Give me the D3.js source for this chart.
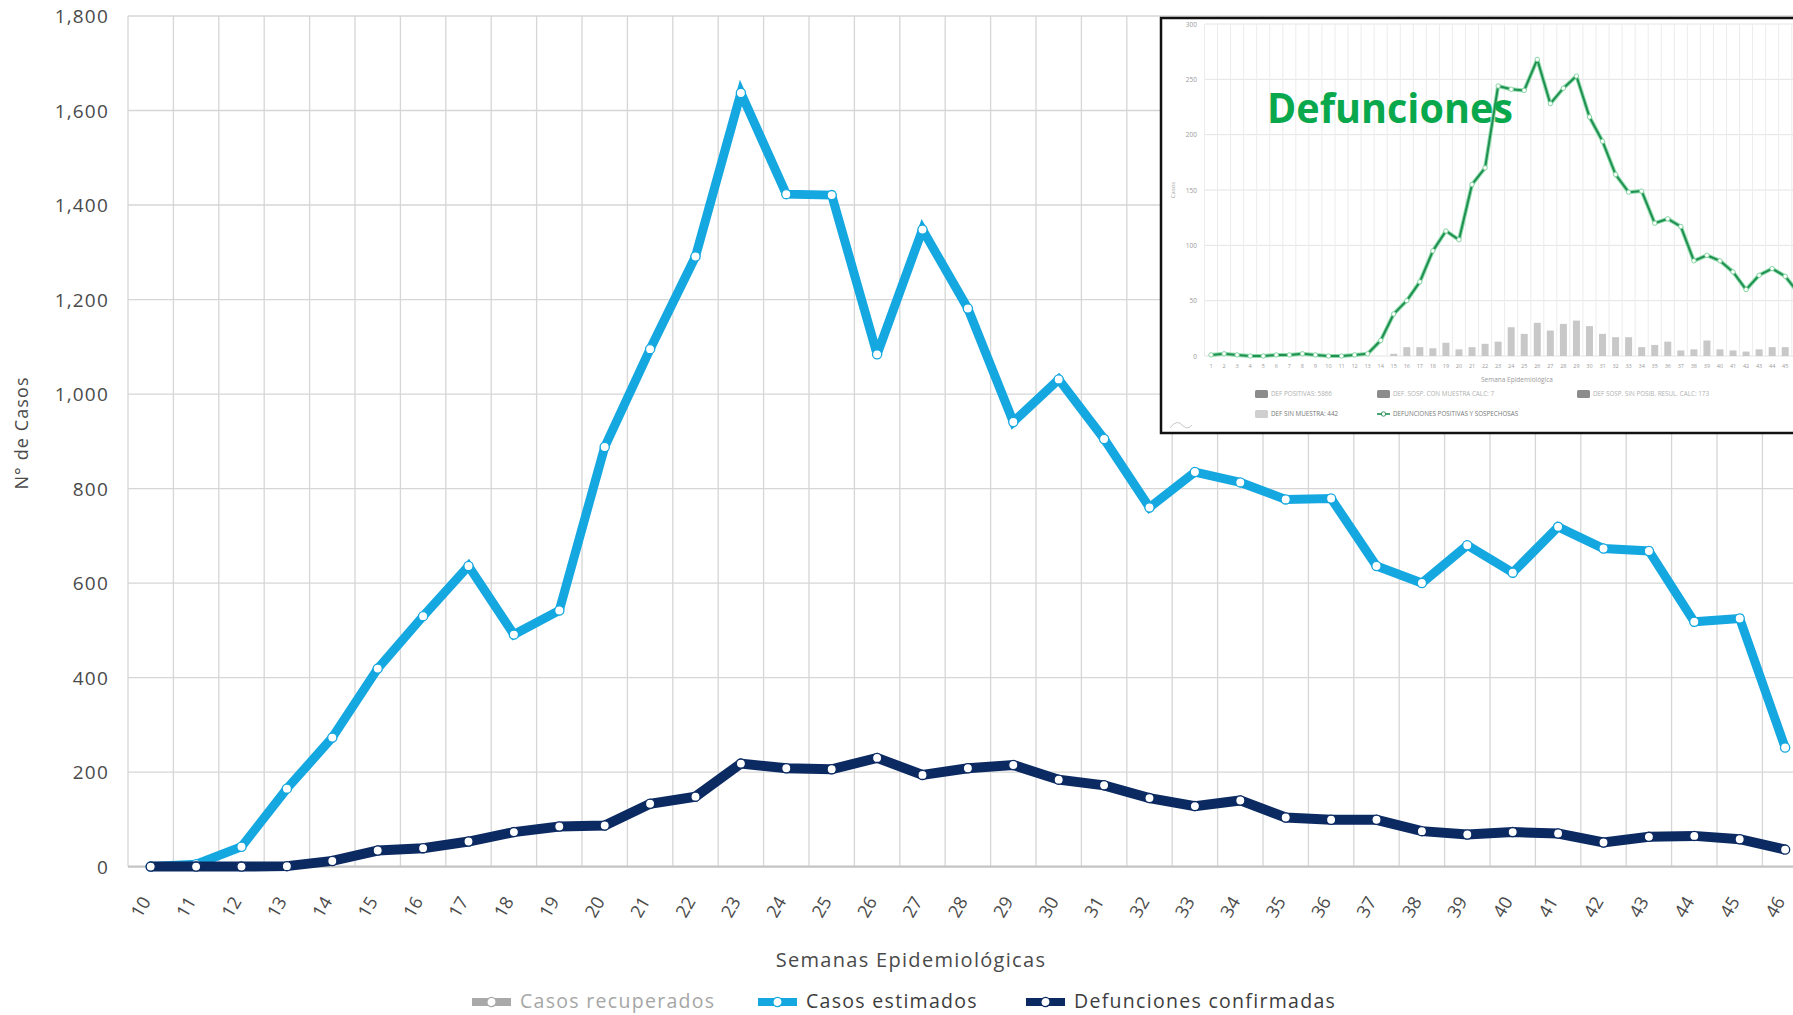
<!DOCTYPE html>
<html>
<head>
<meta charset="utf-8">
<script src="https://cdn.jsdelivr.net/npm/d3@7"></script>
<style>
  html, body { margin: 0; padding: 0; background: #fff; overflow: hidden; }
  svg { display: block; font-family: "Open Sans", "DejaVu Sans", sans-serif; }
</style>
</head>
<body>
<svg id="chart" width="1793" height="1015"></svg>
<script>
// ---------- Main chart data ----------
const weeks = [10,11,12,13,14,15,16,17,18,19,20,21,22,23,24,25,26,27,28,29,30,31,32,33,34,35,36,37,38,39,40,41,42,43,44,45,46];
const casosEstimados = [0,5,42,165,273,419,530,636,491,542,888,1095,1291,1637,1423,1421,1084,1348,1181,941,1031,905,760,835,813,777,779,636,600,680,622,719,673,668,518,525,252];
const defuncionesConfirmadas = [0,0,0,1,12,34,39,53,73,85,87,133,148,218,208,206,230,194,208,215,184,172,145,128,140,104,99,99,75,68,73,70,51,63,65,58,36];
const yTicks = [0,200,400,600,800,1000,1200,1400,1600,1800];
const legendLabels = ["Casos recuperados", "Casos estimados", "Defunciones confirmadas"];

// ---------- Inset (Defunciones) data ----------
const insetWeeks = [1,2,3,4,5,6,7,8,9,10,11,12,13,14,15,16,17,18,19,20,21,22,23,24,25,26,27,28,29,30,31,32,33,34,35,36,37,38,39,40,41,42,43,44,45,46];
const insetLine = [1,2,1,0,0,1,1,2,1,0,0,1,2,14,38,50,67,95,113,105,155,170,244,241,240,268,228,242,253,216,194,164,148,149,120,124,117,86,91,86,76,60,73,79,72,57];
const insetBars = [0,0,0,0,0,0,0,0,0,0,0,0,0,0,2,8,8,7,12,6,8,11,13,26,20,30,23,29,32,27,20,17,17,8,10,13,5,6,14,6,5,4,6,8,8,8];
const insetYTicks = [0,50,100,150,200,250,300];
const insetLegend = ["DEF POSITIVAS: 5866", "DEF. SOSP. CON MUESTRA CALC: 7", "DEF SOSP. SIN POSIB. RESUL. CALC: 173", "DEF SIN MUESTRA: 442", "DEFUNCIONES POSITIVAS Y SOSPECHOSAS"];

const svg = d3.select("#chart");
svg.append("rect").attr("width", 1793).attr("height", 1015).attr("fill", "#fff");

const COL_LIGHT = "#14a7e0";
const COL_DARK = "#0c2a62";
const COL_GREY = "#a9a9a9";

const x = d3.scaleBand().domain(weeks).range([128, 128 + weeks.length * 45.4]).padding(0);
const y = d3.scaleLinear().domain([0, 1800]).range([866.6, 16]);
const xc = w => x(w) + x.bandwidth() / 2;

// gridlines
const grid = svg.append("g");
grid.selectAll("line.h").data(yTicks.filter(t => t > 0)).join("line")
  .attr("x1", 128).attr("x2", 1810)
  .attr("y1", d => y(d)).attr("y2", d => y(d))
  .attr("stroke", "#d6d6d6").attr("stroke-width", 1.3);
const bounds = weeks.map(w => x(w)).concat([x(weeks[weeks.length - 1]) + x.bandwidth()]);
grid.selectAll("line.v").data(bounds).join("line")
  .attr("x1", d => d).attr("x2", d => d)
  .attr("y1", y(1800)).attr("y2", y(0))
  .attr("stroke", "#d6d6d6").attr("stroke-width", 1.3);
grid.append("line").attr("x1", 128).attr("x2", 1810).attr("y1", y(0)).attr("y2", y(0))
  .attr("stroke", "#c4c4c4").attr("stroke-width", 2.2);

// y axis labels via d3 axis
const yAxis = svg.append("g").attr("transform", "translate(109,0)")
  .call(d3.axisLeft(y).tickValues(yTicks).tickSize(0).tickPadding(0).tickFormat(d3.format(",")));
yAxis.select(".domain").remove();
yAxis.selectAll("text").attr("font-size", 19).attr("fill", "#4a4a4a")
  .attr("letter-spacing", 1.2)
  .attr("font-family", "'Open Sans', sans-serif").attr("dy", "0.36em");

// x axis labels
const xAxis = svg.append("g");
xAxis.selectAll("text").data(weeks).join("text")
  .attr("transform", d => `translate(${xc(d) - 10},${907}) rotate(-60)`)
  .attr("text-anchor", "middle").attr("dy", "0.35em")
  .attr("font-size", 18).attr("fill", "#4a4a4a").text(d => d);

// axis titles
svg.append("text").attr("transform", "translate(22,433) rotate(-90)")
  .attr("text-anchor", "middle").attr("dy", "0.35em").attr("letter-spacing", 1.1)
  .attr("font-size", 18).attr("fill", "#4a4a4a").text("N° de Casos");
svg.append("text").attr("x", 911).attr("y", 960).attr("text-anchor", "middle").attr("dy", "0.35em")
  .attr("letter-spacing", 1.3)
  .attr("font-size", 20).attr("fill", "#4a4a4a").text("Semanas Epidemiológicas");

// lines
function drawSeries(vals, color, width) {
  const data = weeks.map((w, i) => ({ w, v: vals[i] }));
  const line = d3.line().x(d => xc(d.w)).y(d => y(d.v));
  svg.append("path").datum(data).attr("d", line).attr("fill", "none")
    .attr("stroke", color).attr("stroke-width", width).attr("stroke-linejoin", "miter").attr("stroke-miterlimit", 3);
  svg.append("g").selectAll("circle").data(data).join("circle")
    .attr("cx", d => xc(d.w)).attr("cy", d => y(d.v)).attr("r", 4.6)
    .attr("fill", "#fff").attr("stroke", color).attr("stroke-width", 1.3);
}
drawSeries(casosEstimados, COL_LIGHT, 9);
drawSeries(defuncionesConfirmadas, COL_DARK, 10);

// legend
const legendX = [472, 758, 1026];
const legendCols = [COL_GREY, COL_LIGHT, COL_DARK];
const legendText = ["#a6a6a6", "#3d3d3d", "#3d3d3d"];
const lg = svg.append("g");
legendLabels.forEach((lab, i) => {
  const g = lg.append("g").attr("transform", `translate(${legendX[i]},1002)`);
  g.append("line").attr("x1", 0).attr("x2", 39).attr("y1", 0).attr("y2", 0)
    .attr("stroke", legendCols[i]).attr("stroke-width", 8);
  g.append("circle").attr("cx", 19.5).attr("cy", 0).attr("r", 4.6)
    .attr("fill", "#fff").attr("stroke", legendCols[i]).attr("stroke-width", 1.3);
  g.append("text").attr("x", 48).attr("y", 0).attr("dy", "0.33em")
    .attr("letter-spacing", 1.3)
    .attr("font-size", 19.5).attr("fill", legendText[i]).text(lab);
});

// ---------- Inset ----------
const inset = svg.append("g");
inset.append("rect").attr("x", 1161).attr("y", 18).attr("width", 700).attr("height", 415)
  .attr("fill", "#fff").attr("stroke", "#111").attr("stroke-width", 2.5);

const xi = d3.scaleBand().domain(insetWeeks).range([1204.5, 1204.5 + insetWeeks.length * 13.05]).padding(0);
const yi = d3.scaleLinear().domain([0, 300]).range([356, 24]);
const xic = w => xi(w) + xi.bandwidth() / 2;

inset.selectAll("line.ih").data(insetYTicks).join("line")
  .attr("x1", 1205).attr("x2", 1810).attr("y1", d => yi(d)).attr("y2", d => yi(d))
  .attr("stroke", "#e4e4e4").attr("stroke-width", 1);
const ib = insetWeeks.map(w => xi(w)).concat([xi(insetWeeks[insetWeeks.length - 1]) + xi.bandwidth()]);
inset.selectAll("line.iv").data(ib).join("line")
  .attr("x1", d => d).attr("x2", d => d).attr("y1", yi(300)).attr("y2", yi(0))
  .attr("stroke", "#ececec").attr("stroke-width", 1);

const yiAxis = inset.append("g").attr("transform", "translate(1197,0)")
  .call(d3.axisLeft(yi).tickValues(insetYTicks).tickSize(0).tickPadding(0));
yiAxis.select(".domain").remove();
yiAxis.selectAll("text").attr("font-size", 6.5).attr("fill", "#9a9a9a").attr("dy", "0.35em")
  .attr("font-family", "'Open Sans', sans-serif");

inset.append("text").attr("transform", "translate(1175,190) rotate(-90)").attr("text-anchor", "middle")
  .attr("font-size", 6).attr("fill", "#a0a0a0").text("Casos");

inset.selectAll("text.ixl").data(insetWeeks).join("text")
  .attr("x", d => xic(d)).attr("y", 366).attr("text-anchor", "middle").attr("dy", "0.35em")
  .attr("font-size", 5.5).attr("fill", "#9a9a9a").text(d => d);
inset.append("text").attr("x", 1517).attr("y", 380).attr("text-anchor", "middle").attr("dy", "0.35em")
  .attr("font-size", 6.5).attr("fill", "#9a9a9a").text("Semana Epidemiológica");

// bars
inset.selectAll("rect.bar").data(insetWeeks.map((w, i) => ({ w, v: insetBars[i] })).filter(d => d.v > 0)).join("rect")
  .attr("x", d => xic(d.w) - 3.5).attr("width", 7)
  .attr("y", d => yi(d.v)).attr("height", d => yi(0) - yi(d.v))
  .attr("fill", "#c8c8c8");

// green line
const gdata = insetWeeks.map((w, i) => ({ w, v: insetLine[i] }));
const gline = d3.line().x(d => xic(d.w)).y(d => yi(d.v));
inset.append("path").datum(gdata).attr("d", gline).attr("fill", "none")
  .attr("stroke", "#8fdcaa").attr("stroke-width", 4).attr("stroke-linejoin", "round");
inset.append("path").datum(gdata).attr("d", gline).attr("fill", "none")
  .attr("stroke", "#1f8f52").attr("stroke-width", 2).attr("stroke-linejoin", "round");
inset.selectAll("circle.gm").data(gdata).join("circle")
  .attr("cx", d => xic(d.w)).attr("cy", d => yi(d.v)).attr("r", 2.2)
  .attr("fill", "#fff").attr("stroke", "#7fd09c").attr("stroke-width", 0.9);

// inset legend
const ilPos = [[1255, 394], [1377, 394], [1577, 394], [1255, 414], [1377, 414]];
const ilCol = ["#8c8c8c", "#8c8c8c", "#8c8c8c", "#cfcfcf", null];
insetLegend.forEach((lab, i) => {
  const [lx, ly] = ilPos[i];
  if (ilCol[i]) {
    inset.append("rect").attr("x", lx).attr("y", ly - 4).attr("width", 13).attr("height", 8)
      .attr("rx", 1.5).attr("fill", ilCol[i]);
  } else {
    inset.append("line").attr("x1", lx).attr("x2", lx + 13).attr("y1", ly).attr("y2", ly)
      .attr("stroke", "#1f8f52").attr("stroke-width", 1.6);
    inset.append("circle").attr("cx", lx + 6.5).attr("cy", ly).attr("r", 2.2)
      .attr("fill", "#fff").attr("stroke", "#1f8f52").attr("stroke-width", 0.9);
  }
  inset.append("text").attr("x", lx + 16).attr("y", ly).attr("dy", "0.35em")
    .attr("font-size", 6.3).attr("fill", i === 3 || i === 4 ? "#777" : "#b0b0b0").text(lab);
});

// small logo mark
inset.append("path").attr("d", "M1170,428 Q1177,418 1183,426 Q1188,430 1192,425")
  .attr("fill", "none").attr("stroke", "#c8c8c8").attr("stroke-width", 1);

// Big label
inset.append("text").attr("x", 1267).attr("y", 123)
  .attr("font-size", 41).attr("font-weight", 700).attr("fill", "#0aa84c")
  .attr("textLength", 246).attr("lengthAdjust", "spacingAndGlyphs")
  .attr("font-family", "'Open Sans', sans-serif").text("Defunciones");
</script>
</body>
</html>
